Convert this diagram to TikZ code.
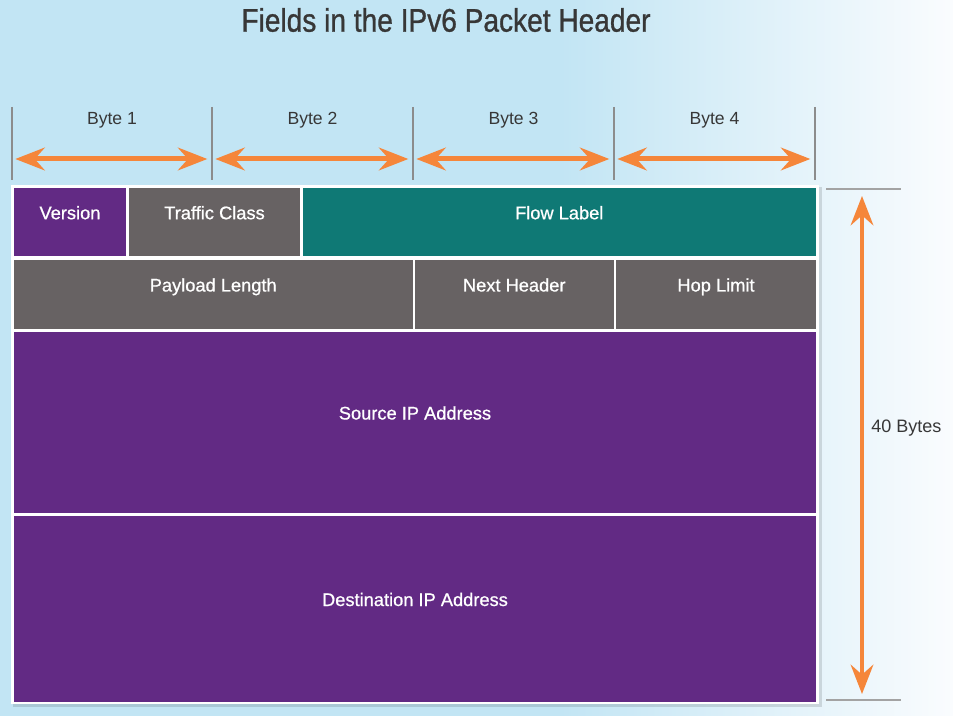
\documentclass[tikz,border=0pt]{standalone}
\usepackage{fontspec}
\setmainfont{Liberation Sans}
\newfontfamily\titlefont[FakeStretch=0.86,FakeBold=0.9]{Liberation Sans}
\newfontfamily\fieldfont[FakeBold=0.8]{Liberation Sans}
\usetikzlibrary{arrows.meta,calc}
\definecolor{bgblue}{RGB}{194,229,244}
\definecolor{bgwhite}{RGB}{250,252,254}
\definecolor{vpurple}{RGB}{98,42,132}
\definecolor{fgray}{RGB}{103,98,99}
\definecolor{fteal}{RGB}{15,121,117}
\definecolor{arrorange}{RGB}{245,134,58}
\definecolor{tickgray}{RGB}{140,140,140}
\definecolor{txtdark}{RGB}{55,55,55}
\tikzset{
  field/.style={draw=none, inner sep=0pt, outer sep=0pt, rectangle},
  fieldtext/.style={text=white, font=\fieldfont\fontsize{13.7pt}{15pt}\selectfont, inner sep=0pt,
    text height=10pt, text depth=3pt},
  bytetext/.style={text=txtdark, font=\fontsize{13.2pt}{15pt}\selectfont, inner sep=0pt,
    text height=10pt, text depth=3pt},
  tickline/.style={draw=tickgray, line width=1.5pt},
  oarrow/.style={draw=arrorange, line width=3.75pt,
    {Stealth[length=22pt,width=17pt,inset=7.5pt]}-{Stealth[length=22pt,width=17pt,inset=7.5pt]}},
}
\newcommand\fld[7]{%
  \node[field, fill=#6, minimum width={(#4-#2)*0.75pt}, minimum height={(#5-#3)*0.75pt},
        label={[fieldtext, yshift=5.75pt]center:#7}] (#1) at ({(#2+#4)/2},{(#3+#5)/2}) {};}
\begin{document}
\begin{tikzpicture}[x=0.75pt,y=-0.75pt]
\useasboundingbox (0,0) rectangle (953,716);
% background
\fill[bgblue] (0,0) rectangle (560,716);
\shade[left color=bgblue, right color=bgwhite] (560,0) rectangle (953,716);
% title
\node[text=txtdark, font=\titlefont\fontsize{24.5pt}{28pt}\selectfont, inner sep=0pt] (title) at (446,20) {Fields in the IPv6 Packet Header};
% byte ticks
\foreach \i/\x in {0/12,1/212,2/413,3/614,4/815}{
  \coordinate (t\i) at (\x,107);
  \coordinate (b\i) at (\x,180);
  \coordinate (a\i) at (\x,159);
  \draw[tickline] (t\i) -- (b\i);
}
\foreach \i/\j/\n in {0/1/1,1/2/2,2/3/3,3/4/4}{
  \draw[oarrow] ([xshift=2.5pt]a\i) -- ([xshift=-3.5pt]a\j);
  \node[bytetext] (byte\n) at ($(t\i)!0.5!(t\j)+(0,13)$) {Byte \n};
}
% table frame with shadow
\fill[black, opacity=0.12] (13,187) rectangle (822,707);
\node[field, fill=white, minimum width={808*0.75pt}, minimum height={519*0.75pt}] (frame) at (415,444.5) {};
% fields
\fld{ver}{14}{188}{126}{256.5}{vpurple}{Version}
\fld{tc}{129}{188}{300}{256.5}{fgray}{Traffic Class}
\fld{fl}{302.5}{188}{816}{256.5}{fteal}{Flow Label}
\fld{pl}{14}{260}{412.5}{329}{fgray}{Payload Length}
\fld{nh}{415}{260}{613.5}{329}{fgray}{Next Header}
\fld{hl}{616}{260}{816}{329}{fgray}{Hop Limit}
\fld{src}{14}{332}{816}{513}{vpurple}{Source IP Address}
\fld{dst}{14}{516}{816}{702}{vpurple}{Destination IP Address}
% right side dimension
\coordinate (r1a) at (826,189);
\coordinate (r1b) at (901,189);
\coordinate (r2a) at (826,700);
\coordinate (r2b) at (901,700);
\draw[tickline, draw=tickgray!80] (r1a) -- (r1b);
\draw[tickline, draw=tickgray!80] (r2a) -- (r2b);
\coordinate (va) at (862,196);
\coordinate (vb) at (862,694);
\draw[oarrow, line width=3pt] (va) -- (vb);
\node[bytetext, anchor=west, font=\fontsize{13.5pt}{15pt}\selectfont] (forty) at (871,428) {40 Bytes};
\end{tikzpicture}
\end{document}
